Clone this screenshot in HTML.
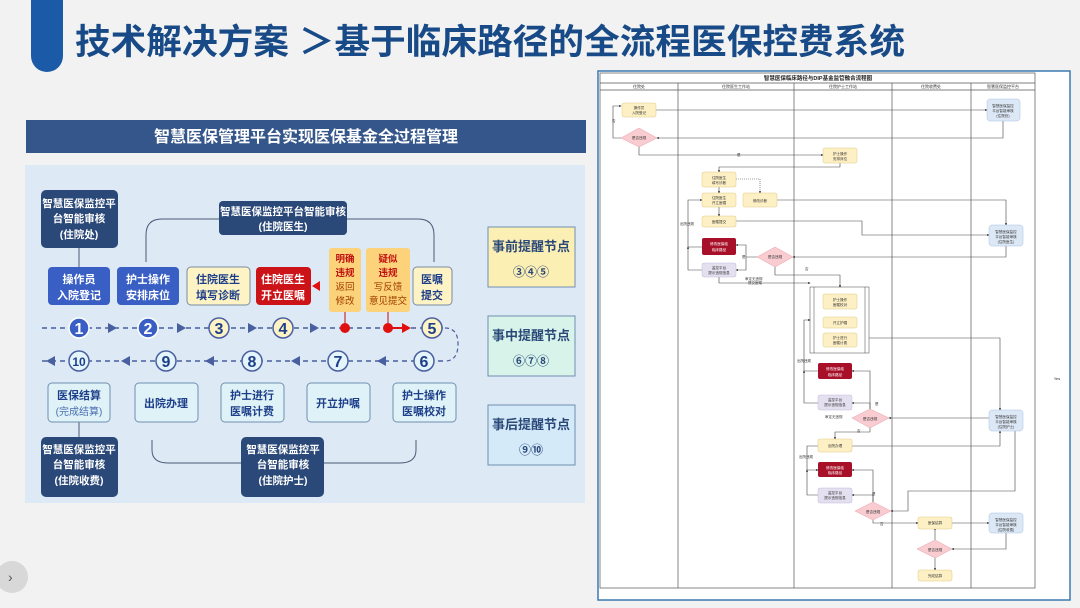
<!DOCTYPE html>
<html><head><meta charset="utf-8"><style>
html,body{margin:0;padding:0;background:#f2f2f2;}
svg{display:block;font-family:"Liberation Sans","Noto Sans CJK SC",sans-serif;}
</style></head><body>
<svg width="1080" height="608" viewBox="0 0 1080 608" xmlns="http://www.w3.org/2000/svg">
<defs>
<marker id="b" markerWidth="4" markerHeight="4" refX="3" refY="2" orient="auto"><path d="M0,0 L4,2 L0,4z" fill="#333"/></marker>
</defs>
<rect width="1080" height="608" fill="#f2f2f2"/>
<!-- header -->
<path d="M31,0 H63 V56 A16,16 0 0 1 31,56 Z" fill="#1b5aa6"/>
<text x="75" y="54" font-size="35" font-weight="bold" fill="#174a86" textLength="830" lengthAdjust="spacingAndGlyphs">技术解决方案 ＞基于临床路径的全流程医保控费系统</text>
<circle cx="12" cy="577" r="16" fill="#d8d8d8"/>
<text x="8" y="582" font-size="14" fill="#555">›</text>

<!-- left section -->
<rect x="26" y="120" width="560" height="33" fill="#35568a"/>
<text x="306" y="142" font-size="16" font-weight="bold" fill="#fff" text-anchor="middle">智慧医保管理平台实现医保基金全过程管理</text>
<rect x="25" y="165" width="560" height="338" fill="#dde9f4"/>
<path d="M146,262 V235 Q146,219 162,219 H418 Q434,219 434,235 V262" fill="none" stroke="#4a5a78" stroke-width="1"/>
<path d="M152,440 V450 Q152,463 168,463 H400 Q416,463 416,450 V440" fill="none" stroke="#4a5a78" stroke-width="1"/>
<line x1="79" y1="248" x2="79" y2="267" stroke="#4a5a78"/>
<line x1="79" y1="422" x2="79" y2="437" stroke="#4a5a78"/>
<g fill="#2a4878">
<rect x="41" y="190" width="77" height="58" rx="5"/>
<rect x="219" y="201" width="128" height="34" rx="4"/>
<rect x="41" y="437" width="77" height="60" rx="5"/>
<rect x="241" y="437" width="83" height="60" rx="5"/>
</g>
<g fill="#fff" font-size="10.5" font-weight="bold" text-anchor="middle">
<text x="79" y="207">智慧医保监控平</text><text x="79" y="222">台智能审核</text><text x="79" y="238">(住院处)</text>
<text x="283" y="215">智慧医保监控平台智能审核</text><text x="283" y="230">(住院医生)</text>
<text x="79" y="453">智慧医保监控平</text><text x="79" y="468">台智能审核</text><text x="79" y="484">(住院收费)</text>
<text x="283" y="453">智慧医保监控平</text><text x="283" y="468">台智能审核</text><text x="283" y="484">(住院护士)</text>
</g>
<rect x="48" y="267" width="62" height="38" rx="4" fill="#3a5fc4"/>
<rect x="117" y="267" width="62" height="38" rx="4" fill="#3a5fc4"/>
<rect x="187" y="267" width="63" height="38" rx="4" fill="#fdf3c4" stroke="#7a8aa8"/>
<rect x="256" y="267" width="55" height="38" rx="4" fill="#cc1318"/>
<rect x="329" y="248" width="32" height="64" rx="3" fill="#fcd27a"/>
<rect x="366" y="248" width="44" height="64" rx="3" fill="#fcd27a"/>
<rect x="413" y="267" width="39" height="38" rx="4" fill="#fdf3c4" stroke="#7a8aa8"/>
<g font-size="11" font-weight="bold" text-anchor="middle">
<text x="79" y="283" fill="#fff">操作员</text><text x="79" y="299" fill="#fff">入院登记</text>
<text x="148" y="283" fill="#fff">护士操作</text><text x="148" y="299" fill="#fff">安排床位</text>
<text x="218" y="283" fill="#1d3f8a">住院医生</text><text x="218" y="299" fill="#1d3f8a">填写诊断</text>
<text x="283" y="283" fill="#fff">住院医生</text><text x="283" y="299" fill="#fff">开立医嘱</text>
<text x="432" y="283" fill="#1d3f8a">医嘱</text><text x="432" y="299" fill="#1d3f8a">提交</text>
</g>
<g font-size="9.5" text-anchor="middle">
<text x="345" y="262" fill="#c01010" font-weight="bold">明确</text><text x="345" y="276" fill="#c01010" font-weight="bold">违规</text><text x="345" y="290" fill="#a04000">返回</text><text x="345" y="304" fill="#a04000">修改</text>
<text x="388" y="262" fill="#c01010" font-weight="bold">疑似</text><text x="388" y="276" fill="#c01010" font-weight="bold">违规</text><text x="388" y="290" fill="#a04000">写反馈</text><text x="388" y="304" fill="#a04000">意见提交</text>
</g>
<path d="M312,286 l8,-5 v10z" fill="#e01010"/>
<line x1="42" y1="328" x2="445" y2="328" stroke="#4a5fa0" stroke-width="1.5" stroke-dasharray="5,4"/>
<path d="M445,328 Q458,328 458,344 Q458,361 445,361" fill="none" stroke="#4a5fa0" stroke-width="1.2" stroke-dasharray="4,3"/>
<line x1="42" y1="361" x2="445" y2="361" stroke="#4a5fa0" stroke-width="1.5" stroke-dasharray="5,4"/>
<g fill="#4a5fa0">
<path d="M108,323 l9,5 l-9,5z"/><path d="M177,323 l9,5 l-9,5z"/><path d="M248,323 l9,5 l-9,5z"/><path d="M310,323 l9,5 l-9,5z"/>
<path d="M46,361 l9,-5 v10z"/><path d="M121,361 l9,-5 v10z"/><path d="M205,361 l9,-5 v10z"/><path d="M291,361 l9,-5 v10z"/><path d="M377,361 l9,-5 v10z"/>
</g>
<line x1="345" y1="312" x2="345" y2="328" stroke="#c01010"/><line x1="388" y1="312" x2="388" y2="328" stroke="#c01010"/>
<circle cx="345" cy="328" r="5" fill="#e01010"/><circle cx="388" cy="328" r="5" fill="#e01010"/>
<line x1="388" y1="328" x2="403" y2="328" stroke="#e01010" stroke-width="2"/><path d="M402,323 l9,5 l-9,5z" fill="#e01010"/>
<g stroke-width="1.5" font-size="16" font-weight="bold" text-anchor="middle">
<circle cx="79" cy="328" r="10" fill="#3a5fc4" stroke="#fff"/><text x="79" y="334" fill="#fff" stroke="none">1</text>
<circle cx="148" cy="328" r="10" fill="#3a5fc4" stroke="#fff"/><text x="148" y="334" fill="#fff" stroke="none">2</text>
<circle cx="219" cy="328" r="10" fill="#fdf3c4" stroke="#4a5fa0"/><text x="219" y="334" fill="#1d3f8a" stroke="none">3</text>
<circle cx="283" cy="328" r="10" fill="#fdf3c4" stroke="#4a5fa0"/><text x="283" y="334" fill="#1d3f8a" stroke="none">4</text>
<circle cx="432" cy="328" r="10" fill="#fdf3c4" stroke="#4a5fa0"/><text x="432" y="334" fill="#1d3f8a" stroke="none">5</text>
<circle cx="79" cy="361" r="10" fill="#e4f4fb" stroke="#4a5fa0"/><text x="79" y="366" font-size="12" fill="#1d3f8a" stroke="none">10</text>
<circle cx="166" cy="361" r="10" fill="#e4f4fb" stroke="#4a5fa0"/><text x="166" y="367" fill="#1d3f8a" stroke="none">9</text>
<circle cx="252" cy="361" r="10" fill="#e4f4fb" stroke="#4a5fa0"/><text x="252" y="367" fill="#1d3f8a" stroke="none">8</text>
<circle cx="338" cy="361" r="10" fill="#e4f4fb" stroke="#4a5fa0"/><text x="338" y="367" fill="#1d3f8a" stroke="none">7</text>
<circle cx="424" cy="361" r="10" fill="#e4f4fb" stroke="#4a5fa0"/><text x="424" y="367" fill="#1d3f8a" stroke="none">6</text>
</g>
<g fill="#dff2f7" stroke="#6f8fb0">
<rect x="48" y="383" width="62" height="39" rx="4"/><rect x="135" y="383" width="63" height="39" rx="4"/><rect x="221" y="383" width="63" height="39" rx="4"/><rect x="307" y="383" width="63" height="39" rx="4"/><rect x="393" y="383" width="63" height="39" rx="4"/>
</g>
<g font-size="11" font-weight="bold" fill="#1d3f8a" text-anchor="middle">
<text x="79" y="399">医保结算</text><text x="79" y="415" font-weight="normal" font-size="10" fill="#4a6fb0">(完成结算)</text>
<text x="166" y="407">出院办理</text>
<text x="252" y="399">护士进行</text><text x="252" y="415">医嘱计费</text>
<text x="338" y="407">开立护嘱</text>
<text x="424" y="399">护士操作</text><text x="424" y="415">医嘱校对</text>
</g>
<rect x="488" y="227" width="87" height="60" fill="#fcefb4" stroke="#6f8fb0"/>
<rect x="488" y="316" width="87" height="60" fill="#d8f3ea" stroke="#6f8fb0"/>
<rect x="488" y="405" width="87" height="60" fill="#d4eaf8" stroke="#6f8fb0"/>
<g font-size="13" font-weight="bold" fill="#2a4878" text-anchor="middle">
<text x="531" y="251">事前提醒节点</text><text x="531" y="276" font-size="12">③④⑤</text>
<text x="531" y="340">事中提醒节点</text><text x="531" y="365" font-size="12">⑥⑦⑧</text>
<text x="531" y="429">事后提醒节点</text><text x="531" y="454" font-size="12">⑨⑩</text>
</g>

<!-- right flowchart -->
<rect x="598" y="71" width="472" height="529" fill="#fff" stroke="#3a7ab0" stroke-width="1.5"/>
<g stroke="#555" stroke-width="0.7" fill="none">
<rect x="600" y="73" width="435" height="515"/>
<line x1="600" y1="83" x2="1035" y2="83"/><line x1="600" y1="90" x2="1035" y2="90"/>
<line x1="678" y1="83" x2="678" y2="588"/><line x1="794" y1="83" x2="794" y2="588"/><line x1="892" y1="83" x2="892" y2="588"/><line x1="971" y1="83" x2="971" y2="588"/>
</g>
<text x="818" y="80" font-size="5.5" font-weight="bold" text-anchor="middle" fill="#222">智慧医保临床路径与DIP基金监管融合流程图</text>
<g font-size="4" fill="#333" text-anchor="middle">
<text x="639" y="88">住院处</text><text x="736" y="88">住院医生工作站</text><text x="843" y="88">住院护士工作站</text><text x="931" y="88">住院收费处</text><text x="1003" y="88">智慧医保监控平台</text>
<text x="1057" y="380">Yes</text>
</g>
<g stroke="#444" stroke-width="0.6" fill="none" marker-end="url(#b)">
<path d="M656,110 H987"/>
<path d="M1003,121 V138 H657"/>
<path d="M622,138 H613 V106 H621"/>
<path d="M639,147 V155 H823"/>
<path d="M840,163 V167 H719 V172"/>
<path d="M719,187 V193"/>
<path d="M719,207 V216"/>
<path d="M736,179 H760 V193" stroke-dasharray="1,1"/>
<path d="M777,200 H1006 V225"/>
<path d="M736,221 H862 V235 H989"/>
<path d="M1006,246 V257 H793"/>
<path d="M757,257 H746 V245 H736"/>
<path d="M746,257 V270 H736"/>
<path d="M702,247 H688 V200 H702"/>
<path d="M702,270 H688 V247"/>
<path d="M775,267 V275 H840 V287"/>
<path d="M719,277 V283 H810"/>
<path d="M869,338 H1000 V410"/>
<path d="M989,418 H889"/>
<path d="M870,409 V371 H852"/>
<path d="M870,409 V403 H852"/>
<path d="M818,371 H804 V320 H810"/>
<path d="M818,403 H804 V371"/>
<path d="M870,428 V432 H835 V439"/>
<path d="M852,446 H1000 V431"/>
<path d="M1015,431 V491 H908 V511 H891"/>
<path d="M818,446 H807 V470 H818"/>
<path d="M818,495 H807 V470"/>
<path d="M873,502 V470 H852"/>
<path d="M873,502 V495 H852"/>
<path d="M873,520 V523 H918"/>
<path d="M952,523 H989"/>
<path d="M1006,533 V549 H952"/>
<path d="M935,540 V528"/>
<path d="M935,558 V570"/>
</g>
<g font-size="3.5" fill="#333">
<text x="612" y="122">否</text><text x="737" y="156">是</text><text x="680" y="225">出院违规</text><text x="742" y="258">是</text><text x="805" y="270">否</text>
<text x="745" y="280">审定无违规</text><text x="748" y="284">提交医嘱</text>
<text x="797" y="362">出院违规</text><text x="875" y="405">是</text><text x="825" y="418">审定无违规</text><text x="857" y="432">否</text>
<text x="799" y="458">出院违规</text><text x="872" y="495">是</text><text x="880" y="525">否</text>
</g>
<g stroke-width="0.5">
<g fill="#fdf0c4" stroke="#e0c880">
<rect x="622" y="103" width="34" height="14" rx="2"/>
<rect x="823" y="148" width="34" height="15" rx="2"/>
<rect x="702" y="172" width="34" height="15" rx="2"/>
<rect x="702" y="193" width="34" height="14" rx="2"/>
<rect x="743" y="193" width="34" height="14" rx="2"/>
<rect x="702" y="216" width="34" height="11" rx="2"/>
<rect x="823" y="294" width="34" height="15" rx="2"/>
<rect x="823" y="317" width="34" height="11" rx="2"/>
<rect x="823" y="333" width="34" height="14" rx="2"/>
<rect x="818" y="439" width="34" height="13" rx="2"/>
<rect x="918" y="517" width="34" height="12" rx="2"/>
<rect x="918" y="570" width="34" height="11" rx="2"/>
</g>
<rect x="810" y="287" width="59" height="66" fill="none" stroke="#444"/>
<line x1="814" y1="287" x2="814" y2="353" stroke="#444"/><line x1="865" y1="287" x2="865" y2="353" stroke="#444"/>
<g fill="#dce8f6" stroke="#a8c0e0">
<rect x="987" y="99" width="33" height="22" rx="3"/>
<rect x="989" y="225" width="34" height="21" rx="3"/>
<rect x="989" y="410" width="34" height="21" rx="3"/>
<rect x="989" y="513" width="34" height="20" rx="3"/>
</g>
<g fill="#a8102a"><rect x="702" y="238" width="34" height="17" rx="2"/><rect x="818" y="363" width="34" height="16" rx="2"/><rect x="818" y="462" width="34" height="15" rx="2"/></g>
<g fill="#e4e0f0" stroke="#c0b8d8"><rect x="702" y="263" width="34" height="14" rx="2"/><rect x="818" y="395" width="34" height="15" rx="2"/><rect x="818" y="488" width="34" height="15" rx="2"/></g>
<g fill="#f8ccd0" stroke="#e8a0a8">
<path d="M621,138 L639,128 L657,138 L639,147Z"/>
<path d="M757,257 L775,247 L793,257 L775,267Z"/>
<path d="M852,418 L870,409 L889,418 L870,428Z"/>
<path d="M855,511 L873,502 L891,511 L873,520Z"/>
<path d="M917,549 L935,540 L952,549 L935,558Z"/>
</g>
</g>
<g font-size="3.6" fill="#333" text-anchor="middle">
<text x="639" y="109">操作员</text><text x="639" y="114">入院登记</text>
<text x="840" y="155">护士操作</text><text x="840" y="160">安排床位</text>
<text x="719" y="179">住院医生</text><text x="719" y="184">填写诊断</text>
<text x="719" y="199">住院医生</text><text x="719" y="204">开立医嘱</text>
<text x="760" y="202">修改诊断</text><text x="719" y="223">医嘱提交</text>
<text x="840" y="301">护士操作</text><text x="840" y="306">医嘱校对</text>
<text x="840" y="324">开立护嘱</text>
<text x="840" y="339">护士进行</text><text x="840" y="344">医嘱计费</text>
<text x="835" y="447">出院办理</text><text x="935" y="524">医保结算</text><text x="935" y="577">完成结算</text>
<text x="1003" y="107">智慧医保监控</text><text x="1003" y="112">平台智能审核</text><text x="1003" y="117">(住院处)</text>
<text x="1006" y="233">智慧医保监控</text><text x="1006" y="238">平台智能审核</text><text x="1006" y="243">(住院医生)</text>
<text x="1006" y="418">智慧医保监控</text><text x="1006" y="423">平台智能审核</text><text x="1006" y="428">(住院护士)</text>
<text x="1006" y="521">智慧医保监控</text><text x="1006" y="526">平台智能审核</text><text x="1006" y="531">(住院收费)</text>
<text x="639" y="139">是否违规</text><text x="775" y="258">是否违规</text><text x="870" y="420">是否违规</text><text x="873" y="513">是否违规</text><text x="935" y="551">是否违规</text>
<text x="719" y="269">监控平台</text><text x="719" y="274">提示违规信息</text>
<text x="835" y="401">监控平台</text><text x="835" y="406">提示违规信息</text>
<text x="835" y="494">监控平台</text><text x="835" y="499">提示违规信息</text>
<g fill="#fff"><text x="719" y="245">修改医保临</text><text x="719" y="251">临床路径</text>
<text x="835" y="370">修改医保临</text><text x="835" y="376">临床路径</text>
<text x="835" y="469">修改医保临</text><text x="835" y="474">临床路径</text></g>
</g>
</svg>
</body></html>
